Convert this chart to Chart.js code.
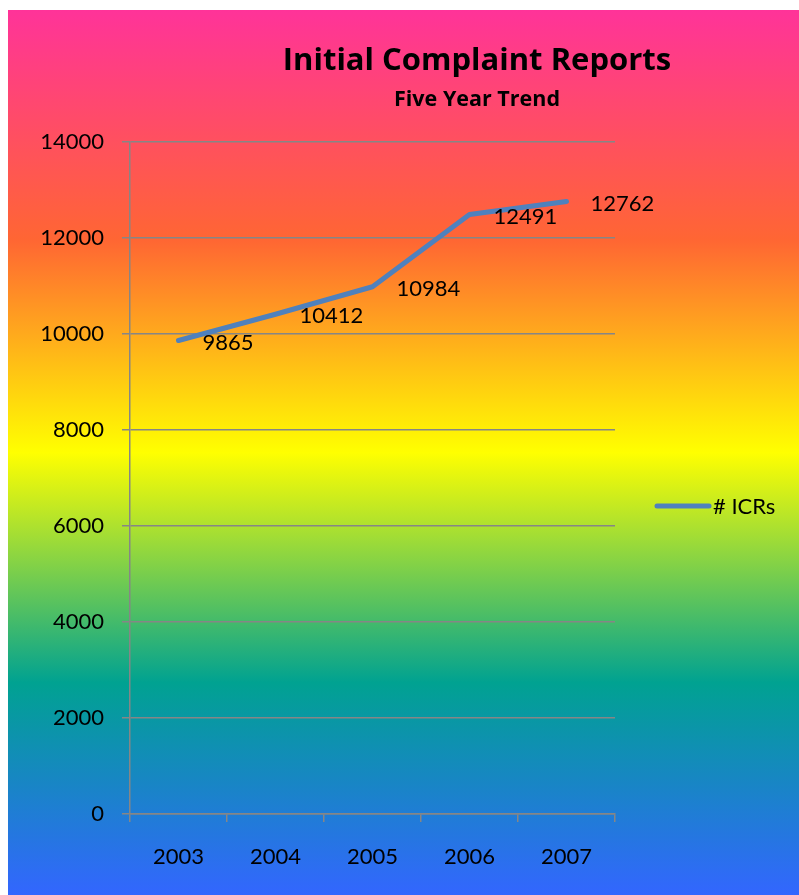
<!DOCTYPE html>
<html><head><meta charset="utf-8">
<script src="https://cdn.jsdelivr.net/npm/chart.js@4/dist/chart.umd.min.js"></script>
<style>html,body{margin:0;padding:0;background:#fff}canvas{display:block}</style>
</head><body>
<canvas id="c" width="799" height="895"></canvas>
<script>
const categories = ['2003', '2004', '2005', '2006', '2007'];
const icrValues = [9865, 10412, 10984, 12491, 12762];
const seriesName = '# ICRs';
const titleText = 'Initial Complaint Reports';
const subtitleText = 'Five Year Trend';
const yMin = 0, yMax = 14000, yStep = 2000;

const FONT = 'Lato, "Open Sans", sans-serif';
const TITLE_FONT = '"Open Sans", Lato, sans-serif';
const LINE_COLOR = '#4f81bd';
const GRID_COLOR = '#868686';

const backgroundPlugin = {
  id: 'bg',
  beforeDraw(chart) {
    const ctx = chart.ctx;
    ctx.save();
    ctx.fillStyle = '#ffffff';
    ctx.fillRect(0, 0, chart.width, chart.height);
    const top = 10, left = 8;
    const g = ctx.createLinearGradient(0, top, 0, chart.height);
    g.addColorStop(0, '#ff3399');
    g.addColorStop(0.26, '#ff6633');
    g.addColorStop(0.5, '#ffff00');
    g.addColorStop(0.76, '#00a291');
    g.addColorStop(1, '#3366ff');
    ctx.fillStyle = g;
    ctx.fillRect(left, top, chart.width - left, chart.height - top);
    ctx.restore();
  }
};

const decorPlugin = {
  id: 'decor',
  afterDraw(chart) {
    const ctx = chart.ctx;
    ctx.save();
    // titles
    ctx.fillStyle = '#000';
    ctx.textAlign = 'center';
    ctx.textBaseline = 'alphabetic';
    ctx.font = 'bold 31px ' + TITLE_FONT;
    ctx.fillText(titleText, 477, 70);
    ctx.font = 'bold 21.5px ' + TITLE_FONT;
    ctx.fillText(subtitleText, 477, 106);
    // data labels
    const meta = chart.getDatasetMeta(0);
    ctx.font = '22px ' + FONT;
    ctx.textAlign = 'left';
    ctx.textBaseline = 'middle';
    meta.data.forEach((pt, i) => {
      ctx.fillText(String(chart.data.datasets[0].data[i]), pt.x + 24, pt.y + 2);
    });
    // legend
    ctx.strokeStyle = LINE_COLOR;
    ctx.lineWidth = 5;
    ctx.lineCap = 'round';
    ctx.beginPath();
    ctx.moveTo(657, 506);
    ctx.lineTo(709, 506);
    ctx.stroke();
    ctx.font = '22px ' + FONT;
    ctx.textBaseline = 'middle';
    ctx.fillText(chart.data.datasets[0].label, 713, 507);
    ctx.restore();
  }
};

new Chart(document.getElementById('c'), {
  type: 'line',
  data: {
    labels: categories,
    datasets: [{
      label: seriesName,
      data: icrValues,
      borderColor: LINE_COLOR,
      borderWidth: 5,
      borderCapStyle: 'round',
      borderJoinStyle: 'round',
      pointRadius: 0,
      tension: 0,
      fill: false
    }]
  },
  options: {
    responsive: false,
    devicePixelRatio: 1,
    animation: false,
    layout: { padding: { left: 0, right: 184, top: 142, bottom: 0 } },
    plugins: { legend: { display: false }, title: { display: false }, tooltip: { enabled: false } },
    scales: {
      x: {
        offset: true,
        grid: { display: true, offset: true, drawOnChartArea: false, drawTicks: true, tickLength: 8, color: GRID_COLOR, lineWidth: 1.5 },
        border: { display: true, color: GRID_COLOR, width: 1.5 },
        ticks: { color: '#000', font: { family: FONT, size: 22 }, padding: 22, maxRotation: 0 },
        afterFit(s) { s.height = 81; }
      },
      y: {
        min: yMin, max: yMax,
        grid: { color: GRID_COLOR, lineWidth: 1.5, drawTicks: true, tickLength: 8 },
        border: { display: true, color: GRID_COLOR, width: 1.5 },
        ticks: { stepSize: yStep, color: '#000', font: { family: FONT, size: 22 }, padding: 18,
                 callback: (v) => String(v) },
        afterFit(s) { s.width = 130; }
      }
    }
  },
  plugins: [backgroundPlugin, decorPlugin]
});
</script>
</body></html>
